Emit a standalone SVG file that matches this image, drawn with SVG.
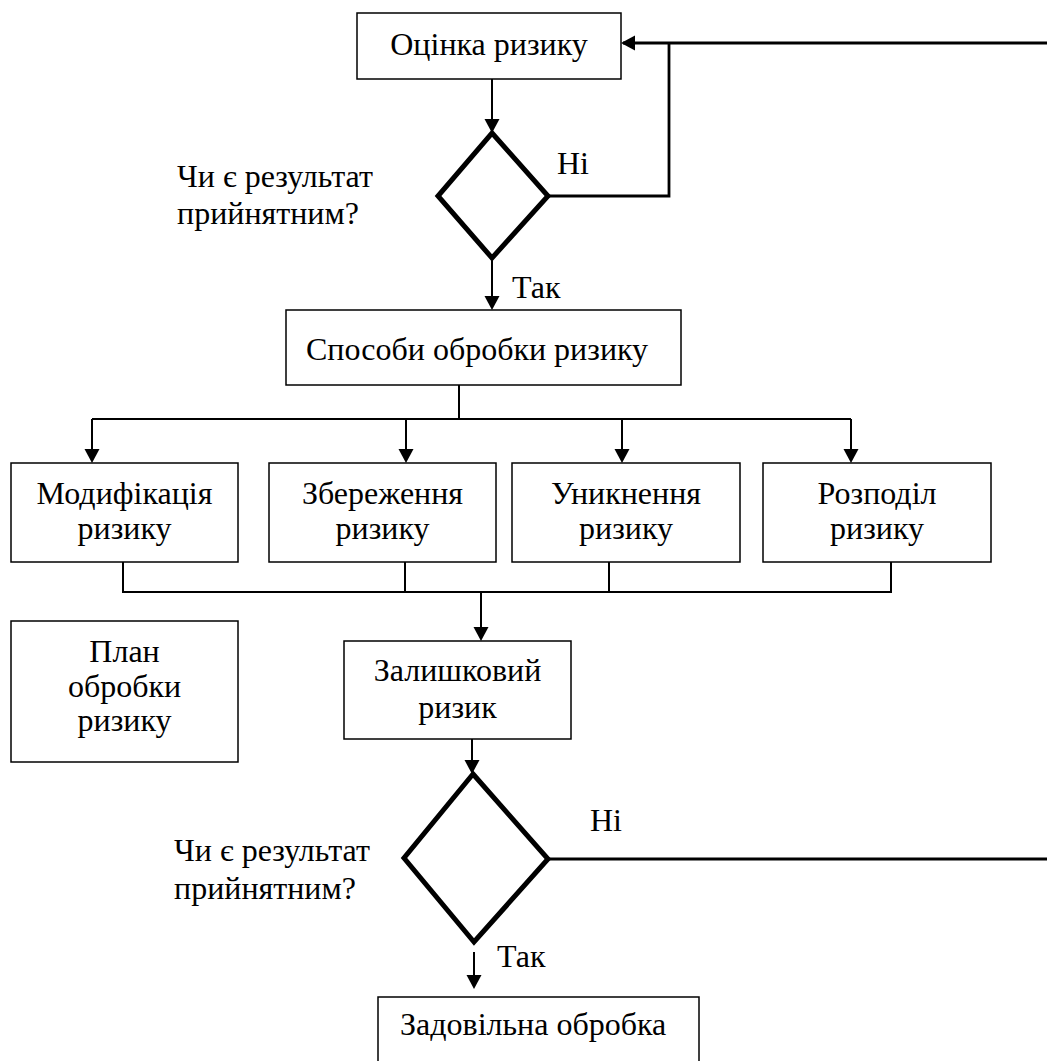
<svg xmlns="http://www.w3.org/2000/svg" width="1047" height="1061" viewBox="0 0 1047 1061">
<style>
  .box { fill: #fff; stroke: #000; stroke-width: 1.5; }
  .dia { fill: #fff; stroke: #000; stroke-width: 5; stroke-linejoin: miter; }
  .t { font-family: "Liberation Serif", "Times New Roman", serif; font-size: 32px; fill: #000; }
  .c { text-anchor: middle; }
  .ln { fill: none; stroke: #000; stroke-width: 2; }
  .thick { stroke-width: 2.8; }
</style>
<defs>
  <marker id="ah" markerUnits="userSpaceOnUse" markerWidth="15" markerHeight="16" refX="12" refY="7.5" orient="auto" viewBox="0 0 15 15">
    <path d="M0,0 L14,7.5 L0,15 z" fill="#000"/>
  </marker>
</defs>
<rect width="1047" height="1061" fill="#fff"/>

<g id="connectors">
  <line class="ln" x1="492" y1="79" x2="492" y2="131" marker-end="url(#ah)"/>
  <polyline class="ln thick" points="548,196 669,196 669,43"/>
  <line class="ln thick" x1="1047" y1="43" x2="623" y2="43" marker-end="url(#ah)"/>
  <line class="ln" x1="492" y1="258" x2="492" y2="308" marker-end="url(#ah)"/>
  <polyline class="ln" points="459,385 459,419"/>
  <line class="ln" x1="92" y1="419" x2="851" y2="419"/>
  <line class="ln" x1="92" y1="419" x2="92" y2="461" marker-end="url(#ah)"/>
  <line class="ln" x1="406" y1="419" x2="406" y2="461" marker-end="url(#ah)"/>
  <line class="ln" x1="622" y1="419" x2="622" y2="461" marker-end="url(#ah)"/>
  <line class="ln" x1="851" y1="419" x2="851" y2="461" marker-end="url(#ah)"/>
  <line class="ln" x1="123" y1="562" x2="123" y2="592"/>
  <line class="ln" x1="405" y1="562" x2="405" y2="592"/>
  <line class="ln" x1="609" y1="562" x2="609" y2="592"/>
  <line class="ln" x1="891" y1="562" x2="891" y2="592"/>
  <line class="ln" x1="122" y1="592" x2="892" y2="592"/>
  <line class="ln" x1="481" y1="592" x2="481" y2="639" marker-end="url(#ah)"/>
  <line class="ln" x1="472" y1="739" x2="472" y2="772" marker-end="url(#ah)"/>
  <line class="ln thick" x1="548" y1="859" x2="1047" y2="859"/>
  <line class="ln" x1="474" y1="952" x2="474" y2="987" marker-end="url(#ah)"/>
</g>

<g id="n-otsinka">
  <rect class="box" x="357" y="13" width="264" height="66"/>
  <text class="t c" x="489" y="55">Оцінка ризику</text>
</g>

<g id="d-1">
  <polygon class="dia" points="492,133 548,196 492,258 438,196"/>
</g>
<g id="l-q1">
  <text class="t" x="177" y="187">Чи є результат</text>
  <text class="t" x="177" y="224">прийнятним?</text>
</g>
<g id="l-ni1"><text class="t" x="557" y="174">Ні</text></g>
<g id="l-tak1"><text class="t" x="512" y="298">Так</text></g>

<g id="n-sposoby">
  <rect class="box" x="286" y="310" width="395" height="75"/>
  <text class="t" x="306" y="360">Способи обробки ризику</text>
</g>

<g id="n-modyf">
  <rect class="box" x="11" y="463" width="227" height="99"/>
  <text class="t c" x="124.5" y="504">Модифікація</text>
  <text class="t c" x="124.5" y="539">ризику</text>
</g>
<g id="n-zberezh">
  <rect class="box" x="269" y="463" width="227" height="99"/>
  <text class="t c" x="382.5" y="504">Збереження</text>
  <text class="t c" x="382.5" y="539">ризику</text>
</g>
<g id="n-unykn">
  <rect class="box" x="512" y="463" width="228" height="99"/>
  <text class="t c" x="626" y="504">Уникнення</text>
  <text class="t c" x="626" y="539">ризику</text>
</g>
<g id="n-rozpodil">
  <rect class="box" x="763" y="463" width="228" height="99"/>
  <text class="t c" x="877" y="504">Розподіл</text>
  <text class="t c" x="877" y="539">ризику</text>
</g>

<g id="n-plan">
  <rect class="box" x="11" y="621" width="227" height="141"/>
  <text class="t c" x="124.5" y="662">План</text>
  <text class="t c" x="124.5" y="697">обробки</text>
  <text class="t c" x="124.5" y="731">ризику</text>
</g>

<g id="n-zalysh">
  <rect class="box" x="344" y="641" width="227" height="98"/>
  <text class="t c" x="457.5" y="681">Залишковий</text>
  <text class="t c" x="457.5" y="718">ризик</text>
</g>

<g id="d-2">
  <polygon class="dia" points="473,774 548,859 474,942 404,858"/>
</g>
<g id="l-q2">
  <text class="t" x="174" y="861">Чи є результат</text>
  <text class="t" x="174" y="899">прийнятним?</text>
</g>
<g id="l-ni2"><text class="t" x="590" y="831">Ні</text></g>
<g id="l-tak2"><text class="t" x="497" y="967">Так</text></g>

<g id="n-zadovilna">
  <rect class="box" x="378" y="997" width="321" height="80"/>
  <text class="t" x="400" y="1035">Задовільна обробка</text>
</g>
</svg>
